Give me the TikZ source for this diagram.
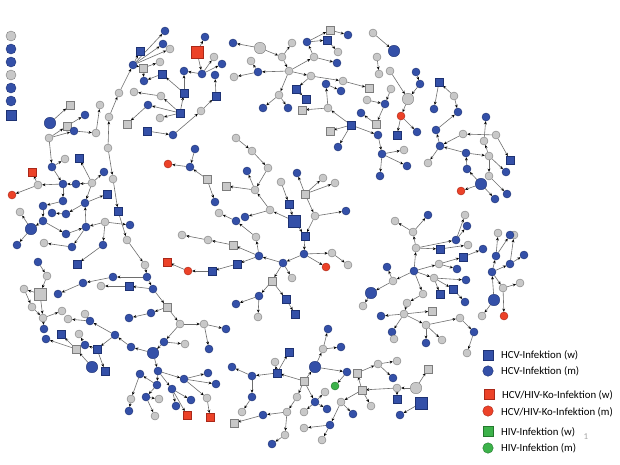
\documentclass[tikz,border=0pt]{standalone}
\usepackage{fontspec}
\newfontfamily\legfont{Carlito}
\usetikzlibrary{arrows.meta,backgrounds}
\definecolor{nblue}{RGB}{52,80,168}
\definecolor{nblueD}{RGB}{30,50,115}
\definecolor{ngrey}{RGB}{200,200,200}
\definecolor{ngreyD}{RGB}{125,125,125}
\definecolor{nred}{RGB}{236,66,40}
\definecolor{nredD}{RGB}{170,40,25}
\definecolor{ngreen}{RGB}{60,178,74}
\definecolor{ngreenD}{RGB}{35,120,45}
\definecolor{edgec}{RGB}{110,110,110}
\tikzset{
 nd/.style={inner sep=0pt,minimum size=8pt,draw,line width=0.4pt},
 nb/.style={nd,circle,fill=nblue,draw=nblueD},
 ng/.style={nd,circle,fill=ngrey,draw=ngreyD},
 nr/.style={nd,circle,fill=nred,draw=nredD},
 ngc/.style={nd,circle,fill=ngreen,draw=ngreenD},
 nB/.style={nd,rectangle,minimum size=7.5pt,fill=nblue,draw=nblueD},
 nG/.style={nd,rectangle,minimum size=7.5pt,fill=ngrey,draw=ngreyD},
 nR/.style={nd,rectangle,minimum size=7.5pt,fill=nred,draw=nredD},
 ngs/.style={nd,rectangle,minimum size=7.5pt,fill=ngreen,draw=ngreenD},
 big/.style={minimum size=11.5pt},
 leg/.style={minimum size=10pt},
 ed/.style={draw=edgec,line width=0.6pt,-{Stealth[length=3.2pt,width=2.8pt,color=black]}},
 legtext/.style={anchor=west,inner sep=0pt,font=\legfont\fontsize{10.8}{12}\selectfont}
}
\newcommand\mynode[4]{\node[#2] (#1) at (#3,#4) {};}
\pgfdeclarelayer{bgzero}
\pgfsetlayers{bgzero,background,main}
\begin{document}
\begin{tikzpicture}[x=1pt,y=-1pt]
\begin{pgfonlayer}{bgzero}
\fill[white] (0,0) rectangle (620,464);
\end{pgfonlayer}
\useasboundingbox (0,0) rectangle (620,464);
% left column
\mynode{L1}{ng,leg}{11}{36}
\mynode{L2}{nb,leg}{11}{49}
\mynode{L3}{nb,leg}{11}{62}
\mynode{L4}{ng,leg}{11}{75}
\mynode{L5}{nb,leg}{11}{88}
\mynode{L6}{nb,leg}{11}{101}
\mynode{L7}{nB,leg}{11}{115}
% cluster A
\mynode{a1}{nb}{165}{31}
\mynode{a2}{nb}{163}{44}
\mynode{a3}{ng}{170}{49}
\mynode{a4}{nB}{140}{51}
\mynode{a5}{nb}{133}{65}
\mynode{a6}{nG}{143}{68}
\mynode{a7}{ng}{160}{62}
\mynode{a8}{nB}{162}{74}
\mynode{a9}{nb}{144}{81}
\mynode{a10}{ng}{119}{93}
\mynode{a11}{nR,big}{197}{52}
\mynode{a12}{nb}{205}{37}
\mynode{a13}{ng}{214}{57}
\mynode{a14}{nb}{222}{64}
\mynode{a15}{nb}{202}{74}
\mynode{a16}{nb}{184}{71}
\mynode{a17}{nb}{215}{75}
\mynode{a18}{nB}{184}{93}
\mynode{a19}{nB}{216}{96}
\mynode{a20}{ng}{201}{111}
\mynode{a21}{ng}{161}{96}
\mynode{a22}{ng}{134}{92}
\mynode{a23}{nB}{180}{113}
\mynode{a24}{nb}{148}{105}
\mynode{a25}{ng}{160}{118}
\mynode{a26}{nG}{127}{124}
\mynode{a27}{nB}{147}{131}
\mynode{a28}{nb}{173}{135}
\mynode{a29}{nb}{195}{149}
\mynode{a30}{ng}{109}{117}
\mynode{a31}{ng}{108}{148}
\mynode{a34}{ng}{236}{138}
\mynode{a35}{ng}{252}{151}
% cluster C
\mynode{c1}{nG}{70}{105}
\mynode{c2}{nb,big}{50}{123}
\mynode{c3}{nG}{67}{126}
\mynode{c4}{nb}{85}{115}
\mynode{c5}{nb}{74}{131}
\mynode{c6}{ng}{49}{138}
\mynode{c7}{ng}{96}{133}
\mynode{c8}{ng}{100}{105}
\mynode{c9}{ng}{65}{159}
\mynode{c10}{nB}{79}{158}
% cluster D
\mynode{d1}{nb}{52}{167}
\mynode{d4}{nR}{32}{172}
\mynode{d5}{ng}{38}{185}
\mynode{d6}{nr}{12}{195}
\mynode{d7}{nb}{63}{184}
\mynode{d8}{nb}{76}{184}
\mynode{d9}{ng}{92}{183}
\mynode{d10}{nb}{104}{172}
\mynode{d11}{ng}{113}{179}
\mynode{d12}{nB}{107}{194}
\mynode{d13}{nb}{63}{201}
\mynode{d14}{nb}{43}{206}
\mynode{d15}{nb}{52}{213}
\mynode{d16}{nb}{66}{214}
\mynode{d17}{nb}{85}{203}
\mynode{d18}{nB}{118}{211}
\mynode{d19}{ng}{20}{212}
\mynode{d20}{nb}{43}{221}
\mynode{d21}{nb,big}{31}{229}
\mynode{d22}{nb}{17}{245}
\mynode{d23}{nb}{66}{234}
\mynode{d24}{nb}{86}{227}
\mynode{d25}{ng}{105}{222}
\mynode{d26}{nb}{130}{225}
\mynode{d27}{ng}{44}{243}
\mynode{d28}{nb}{72}{247}
\mynode{d29}{nb}{103}{245}
\mynode{d30}{ng}{127}{240}
\mynode{d31}{nB}{77}{264}
\mynode{d32}{ng}{145}{265}
\mynode{d33}{nb}{38}{262}
\mynode{d34}{ng}{47}{276}
\mynode{d35}{nb}{113}{277}
\mynode{d36}{nb}{147}{277}
\mynode{d37}{ng}{101}{286}
\mynode{d38}{nB}{129}{286}
\mynode{d39}{nb}{153}{289}
\mynode{d40}{nb}{83}{283}
\mynode{d41}{nb}{58}{294}
\mynode{d42}{ng}{24}{289}
\mynode{d43}{nG,big}{40}{294}
\mynode{d44}{ng}{32}{307}
\mynode{d45}{nG}{167}{307}
\mynode{d46}{ng}{62}{311}
\mynode{d47}{nb}{151}{313}
\mynode{d48}{nb}{129}{318}
\mynode{d49}{ng}{85}{314}
\mynode{d50}{ng}{43}{318}
% cluster R (bottom left)
\mynode{r4}{ng}{68}{319}
\mynode{r6}{nb}{90}{321}
\mynode{r7}{nb}{44}{329}
\mynode{r8}{nb}{46}{339}
\mynode{r9}{nB}{61}{334}
\mynode{r10}{ng}{79}{334}
\mynode{r11}{nG}{76}{349}
\mynode{r12}{nb}{85}{345}
\mynode{r13}{nB}{97}{349}
\mynode{r14}{nb}{115}{335}
\mynode{r15}{nb,big}{92}{367}
\mynode{r16}{nB}{105}{371}
\mynode{r20}{ng}{180}{324}
\mynode{r21}{ng}{204}{324}
\mynode{r22}{nb}{226}{329}
\mynode{r23}{nb}{209}{349}
\mynode{r24}{nb}{164}{342}
\mynode{r25}{ng}{185}{344}
\mynode{r26}{nb}{131}{347}
\mynode{r27}{nb,big}{153}{353}
\mynode{r28}{nb}{158}{371}
\mynode{r29}{nb}{140}{374}
\mynode{r30}{ng}{131}{399}
\mynode{r31}{nb}{129}{411}
\mynode{r32}{nb}{157}{385}
\mynode{r33}{nb}{146}{397}
\mynode{r34}{ng}{159}{399}
\mynode{r35}{ng}{155}{416}
\mynode{r36}{nb}{172}{389}
\mynode{r37}{nb}{176}{406}
\mynode{r38}{nR}{187}{415}
\mynode{r39}{nb}{191}{400}
\mynode{r40}{nb}{184}{379}
\mynode{r41}{nb}{208}{373}
\mynode{r42}{nb}{216}{384}
\mynode{r43}{ng}{207}{398}
\mynode{r44}{nR}{210}{417}
% cluster E
\mynode{e1}{nr}{168}{164}
\mynode{e2}{nb}{190}{167}
\mynode{e3}{nG}{207}{179}
\mynode{e4}{nb}{215}{202}
\mynode{e5}{ng}{219}{213}
\mynode{e6}{ng}{182}{235}
\mynode{e7}{ng}{208}{240}
\mynode{e8}{nR}{167}{262}
\mynode{e9}{nr}{188}{271}
\mynode{e10}{nB}{212}{271}
% cluster F (centre)
\mynode{f2}{ng}{268}{168}
\mynode{f3}{nb}{247}{171}
\mynode{f4}{nG}{226}{186}
\mynode{f5}{ng}{255}{190}
\mynode{f6}{nb}{236}{221}
\mynode{f7}{nb}{245}{217}
\mynode{f8}{ng}{270}{210}
\mynode{f9}{ng}{281}{182}
\mynode{f10}{nB}{289}{204}
\mynode{f11}{nB,big}{294}{221}
\mynode{f12}{nb}{297}{173}
\mynode{f13}{nG}{305}{194}
\mynode{f14}{ng}{323}{178}
\mynode{f15}{ng}{335}{183}
\mynode{f16}{ng}{315}{216}
\mynode{f17}{nb}{346}{211}
\mynode{f18}{nB}{305}{236}
\mynode{f19}{ng}{256}{237}
\mynode{f20}{nG}{233}{245}
\mynode{f21}{nb}{259}{256}
\mynode{f22}{nb}{304}{254}
\mynode{f23}{ng}{332}{253}
\mynode{f24}{ng}{348}{265}
\mynode{f25}{nr}{326}{267}
\mynode{f26}{nb}{283}{263}
\mynode{f27}{nB}{237}{264}
\mynode{f28}{ng}{292}{278}
\mynode{f29}{nG}{272}{281}
\mynode{f30}{nb}{259}{296}
\mynode{f31}{nB}{286}{299}
\mynode{f32}{nb}{236}{304}
\mynode{f33}{nB}{295}{314}
\mynode{f34}{ng}{258}{317}
% cluster G / H (top centre)
\mynode{g1}{nb}{382}{154}
\mynode{g2}{ng}{404}{150}
\mynode{g3}{nb}{380}{176}
\mynode{g4}{nb}{407}{166}
\mynode{h1}{nb}{233}{43}
\mynode{h2}{ng,big}{260}{48}
\mynode{h3}{ng}{282}{57}
\mynode{h4}{ng}{292}{43}
\mynode{h5}{ng}{251}{61}
\mynode{h6}{nb}{258}{72}
\mynode{h7}{ng}{234}{77}
\mynode{h8}{ng}{289}{71}
\mynode{h9}{nb}{307}{42}
\mynode{h10}{nG}{330}{30}
\mynode{h11}{nb}{348}{35}
\mynode{h12}{nB}{327}{40}
\mynode{h13}{ng}{338}{52}
\mynode{h14}{ng}{314}{57}
\mynode{h15}{nb}{337}{63}
\mynode{h16}{ng}{311}{76}
\mynode{h17}{ng}{343}{81}
\mynode{h18}{nG}{369}{88}
\mynode{h19}{nB}{296}{89}
\mynode{h20}{nB}{306}{99}
\mynode{h21}{ng}{279}{95}
\mynode{h22}{nb}{263}{108}
\mynode{h23}{nb}{288}{108}
\mynode{h24}{nG}{302}{110}
\mynode{h25}{ng}{328}{108}
\mynode{h26}{nb}{326}{84}
\mynode{h27}{nb}{341}{91}
\mynode{h28}{nB}{351}{125}
\mynode{h29}{nG}{330}{131}
\mynode{h30}{nb}{338}{147}
\mynode{h31}{ng}{373}{33}
\mynode{h32}{nb,big}{394}{51}
\mynode{h33}{ng}{377}{57}
\mynode{h34}{ng}{379}{74}
\mynode{h35}{ng}{390}{71}
\mynode{h36}{nb}{416}{72}
\mynode{h37}{nb}{420}{84}
\mynode{h38}{ng,big}{408}{99}
\mynode{h39}{ng}{391}{89}
\mynode{h40}{ng}{367}{100}
\mynode{h41}{nb}{385}{104}
\mynode{h42}{nb}{361}{113}
\mynode{h43}{nG}{376}{124}
\mynode{h44}{nr}{401}{116}
\mynode{h45}{nb}{417}{132}
\mynode{h46}{nb}{378}{135}
\mynode{h47}{nB}{397}{135}
% cluster K (top right)
\mynode{k1}{nB}{439}{82}
\mynode{k2}{nb}{434}{109}
\mynode{k3}{ng}{454}{96}
\mynode{k4}{nb}{458}{112}
\mynode{k5}{nb}{436}{130}
\mynode{k6}{nb}{440}{146}
\mynode{k7}{ng}{463}{134}
\mynode{k8}{nb}{466}{153}
\mynode{k9}{ng}{489}{156}
\mynode{k10}{ng}{484}{141}
\mynode{k11}{nb}{486}{117}
\mynode{k12}{ng}{496}{135}
\mynode{k13}{nB}{510}{160}
\mynode{m1}{nb}{467}{169}
\mynode{m2}{nb}{506}{172}
\mynode{m3}{ng}{489}{176}
\mynode{m4}{nb}{507}{194}
\mynode{m5}{nb,big}{481}{184}
\mynode{m6}{nr}{461}{191}
\mynode{m7}{nb}{495}{199}
\mynode{m8}{ng}{428}{163}
% cluster N (right middle)
\mynode{n1}{nb}{428}{215}
\mynode{n2}{ng}{413}{232}
\mynode{n3}{ng}{416}{248}
\mynode{n4}{nB}{440}{249}
\mynode{n5}{nb}{456}{240}
\mynode{n6}{ng}{465}{215}
\mynode{n7}{nb}{467}{226}
\mynode{n8}{ng}{468}{245}
\mynode{n9}{nB}{463}{257}
\mynode{n10}{nb}{483}{249}
\mynode{n11}{ng}{439}{264}
\mynode{n12}{nb}{414}{271}
\mynode{n13}{nb}{457}{269}
\mynode{n14}{ng}{434}{278}
\mynode{n15}{nb}{466}{280}
\mynode{n16}{nB}{453}{289}
\mynode{n17}{nB}{440}{294}
\mynode{n18}{nb}{465}{302}
\mynode{n19}{ng}{423}{294}
\mynode{n20}{ng}{407}{303}
\mynode{n21}{nG}{432}{311}
\mynode{n22}{ng}{404}{314}
\mynode{n23}{ng}{460}{318}
\mynode{n24}{ng}{395}{221}
\mynode{n25}{ng}{393}{281}
\mynode{n26}{nb}{387}{267}
\mynode{n27}{nb,big}{371}{293}
\mynode{n28}{ng}{363}{306}
\mynode{n29}{nb}{381}{316}
\mynode{p1}{nb}{392}{332}
\mynode{p2}{ng}{394}{339}
\mynode{p3}{ng}{426}{325}
\mynode{p4}{nb}{426}{343}
\mynode{p6}{nb}{474}{332}
\mynode{p7}{ng}{467}{353}
\mynode{p8}{ng}{442}{340}
% cluster Q (far right)
\mynode{q1}{ng}{498}{233}
\mynode{q3}{ng}{514}{235}
\mynode{q2}{nb}{510}{235}
\mynode{q4}{nb}{496}{256}
\mynode{q5}{nb}{510}{264}
\mynode{q6}{nb}{524}{255}
\mynode{q7}{nb}{492}{272}
\mynode{q8}{ng}{503}{288}
\mynode{q9}{ng}{520}{283}
\mynode{q10}{nb,big}{494}{300}
\mynode{q11}{ng}{482}{316}
\mynode{q12}{nr}{504}{316}
% cluster S (bottom centre)
\mynode{s3}{nb,big}{315}{367}
\mynode{s4}{ng}{323}{349}
\mynode{s5}{nb}{328}{329}
\mynode{s6}{nb}{341}{347}
\mynode{s7}{nb}{347}{372}
\mynode{s8}{nG}{304}{381}
\mynode{s9}{nB}{289}{352}
\mynode{s10}{ng}{275}{362}
\mynode{s11}{nB}{277}{373}
\mynode{s12}{nb}{252}{376}
\mynode{s13}{nb}{232}{367}
\mynode{s14}{nb}{252}{397}
\mynode{s15}{ng}{242}{412}
\mynode{s16}{nb}{263}{415}
\mynode{s17}{nG}{234}{423}
\mynode{s18}{ng}{287}{412}
\mynode{s19}{ng}{297}{397}
\mynode{s20}{nb}{315}{402}
\mynode{s21}{nb}{327}{409}
\mynode{s22}{ng}{304}{412}
\mynode{s23}{ng}{325}{392}
\mynode{s24}{ngc}{335}{386}
\mynode{s25}{ng}{285}{435}
\mynode{s26}{nb}{272}{444}
\mynode{s27}{ng}{304}{428}
\mynode{s28}{nb}{330}{425}
\mynode{s29}{ng}{322}{440}
\mynode{s30}{ng}{341}{402}
\mynode{s31}{nb}{353}{414}
\mynode{s32}{nG}{362}{390}
\mynode{s33}{nG}{357}{373}
\mynode{s34}{ng}{378}{364}
\mynode{s35}{ng}{397}{361}
\mynode{s36}{nb}{393}{378}
\mynode{s37}{ng}{371}{406}
\mynode{s38}{ng}{397}{388}
\mynode{s39}{ng,big}{416}{388}
\mynode{s40}{nG}{428}{369}
\mynode{s41}{nB}{397}{399}
\mynode{s42}{nB,big}{421}{403}
\mynode{s43}{nb}{400}{415}
% edges
\begin{pgfonlayer}{background}
\foreach \a/\b in {a5/a1,a5/a2,a5/a3,a5/a4,a10/a5,a30/a10,a31/a30,a5/a6,a6/a7,a6/a9,a8/a9,a18/a8,a23/a18,a23/a21,a21/a22,a23/a24,a23/a25,a24/a26,a18/a16,a15/a16,a11/a15,a11/a12,a15/a13,a15/a14,a19/a17,a20/a19,a28/a20,a27/a28,a34/a35,a29/e2,
 c2/c1,c6/c3,c6/c5,c5/c7,c7/c8,c3/c4,c6/d1,d1/c9,d9/c10,
 d1/d7,d7/d5,d5/d4,d5/d6,d8/d7,d9/d8,d9/d10,d9/d17,d17/d12,d17/d16,d16/d15,d7/d13,d13/d14,d14/d20,d20/d21,d21/d19,d21/d22,d20/d23,d23/d24,d24/d17,d25/d24,d25/d26,d25/d29,d29/d31,d24/d28,d28/d27,a31/d11,d11/d18,d18/d30,d30/d32,d32/d36,d36/d39,d39/d45,
 d36/d35,d35/d40,d40/d41,d39/d38,d38/d37,d33/d34,d34/d43,d43/d42,d43/d50,d42/d44,d44/d50,d50/d46,d50/r7,d45/d47,d47/d48,
 r6/r4,r14/r6,r6/d49,r26/r14,r27/r26,r20/r24,r24/r25,r24/r27,r14/r13,r13/r12,r12/r10,r13/r16,r15/r11,r11/r9,r11/r8,d45/r20,r20/r21,r21/r22,r21/r23,r27/r28,r28/r32,r32/r29,r29/r30,r30/r31,r32/r33,r33/r34,r33/r35,r28/r36,r36/r37,r36/r38,r36/r39,r28/r40,r40/r41,r40/r42,r40/r43,r43/r44,
 e2/e1,e3/e2,e3/e4,e7/e6,e10/e9,e9/e8,
 a35/f2,f2/f5,f5/f3,f5/f4,f8/f5,f8/f7,f19/f6,f6/e5,f11/f8,f10/f11,f9/f10,f11/f18,f13/f12,f13/f14,f13/f15,f13/f16,f16/f17,f16/f18,f18/f22,f22/f23,f23/f24,f22/f25,f22/f26,f26/f21,f21/f19,f21/f20,f20/e7,f21/f27,f27/e10,f26/f28,f26/f29,f29/f30,f29/f31,f31/f33,f30/f32,f30/f34,
 h46/g1,g1/g2,g1/g3,g1/g4,
 h2/h1,h2/h3,h3/h4,h3/h8,h8/h6,h6/h5,h6/h7,h8/h14,h14/h9,h9/h10,h9/h12,h10/h11,h12/h13,h14/h15,h8/h16,h16/h17,h17/h18,h16/h19,h19/h20,h8/h21,h21/h22,h21/h23,h25/h24,h25/h26,h26/h27,h28/h25,h28/h29,h28/h30,h28/h46,h31/h32,h33/h34,h35/h38,h36/h37,h37/h38,h38/h44,h44/h45,h44/h47,h39/h41,h40/h41,h41/h43,h43/h42,
 k1/k2,k3/k1,k3/k4,k5/k4,k6/k5,k7/k6,k12/k7,k9/k10,k10/k11,k8/k6,k8/k9,k12/k13,k9/m2,k9/m3,m3/m4,m1/k8,m5/m1,m5/m6,m5/m7,k6/m8,
 n3/n2,n2/n1,n2/n24,n12/n3,n3/n4,n4/n8,n3/n5,n5/n6,n5/n7,n12/n11,n11/n9,n9/n10,n11/n13,n12/n14,n14/n15,n14/n16,n16/n18,n14/n17,n12/n25,n25/n27,n27/n28,n25/n26,n12/n19,n19/n20,n20/n22,n22/n21,n22/n29,n22/p1,p1/p2,n22/p3,p3/p4,p3/n23,n23/p6,p6/p7,p3/p8,
 q4/q1,q4/q2,q5/q3,q5/q6,q7/q4,q7/q5,q10/q7,q10/q11,q7/q8,q8/q9,q8/q12,
 s8/s3,s3/s4,s4/s5,s4/s6,s3/s7,s7/s24,s8/s11,s11/s10,s11/s9,s11/s12,s12/s13,s12/s14,s14/s15,s8/s19,s19/s18,s18/s16,s16/s17,s18/s25,s25/s26,s8/s20,s20/s21,s20/s22,s20/s23,s32/s33,s33/s34,s34/s35,s34/s36,s32/s30,s30/s28,s28/s27,s28/s29,s30/s31,s32/s37,s38/s32,s38/s41,s39/s38,s39/s40,s42/s43}
 \draw[ed] (\a) -- (\b);
\end{pgfonlayer}
% legend
\node[nB,minimum size=10pt] (k1s) at (488,355) {};
\node[nb,minimum size=10.5pt] (k1c) at (488,371) {};
\node[nR,minimum size=10pt] (k2s) at (489,394) {};
\node[nr,minimum size=10.5pt] (k2c) at (488,411) {};
\node[ngs,minimum size=10pt] (k3s) at (488,431) {};
\node[ngc,minimum size=10.5pt] (k3c) at (488,448) {};
\node[legtext] (t1) at (501,355) {HCV-Infektion (w)};
\node[legtext] (t2) at (501,371) {HCV-Infektion (m)};
\node[legtext] (t3) at (502,395) {HCV/HIV-Ko-Infektion (w)};
\node[legtext] (t4) at (501,412) {HCV/HIV-Ko-Infektion (m)};
\node[legtext] (t5) at (501,432) {HIV-Infektion (w)};
\node[legtext] (t6) at (501,448) {HIV-Infektion (m)};
\node[inner sep=0pt,text=gray!70,font=\legfont\fontsize{9}{10}\selectfont] (one) at (586,437) {1};
\end{tikzpicture}
\end{document}
